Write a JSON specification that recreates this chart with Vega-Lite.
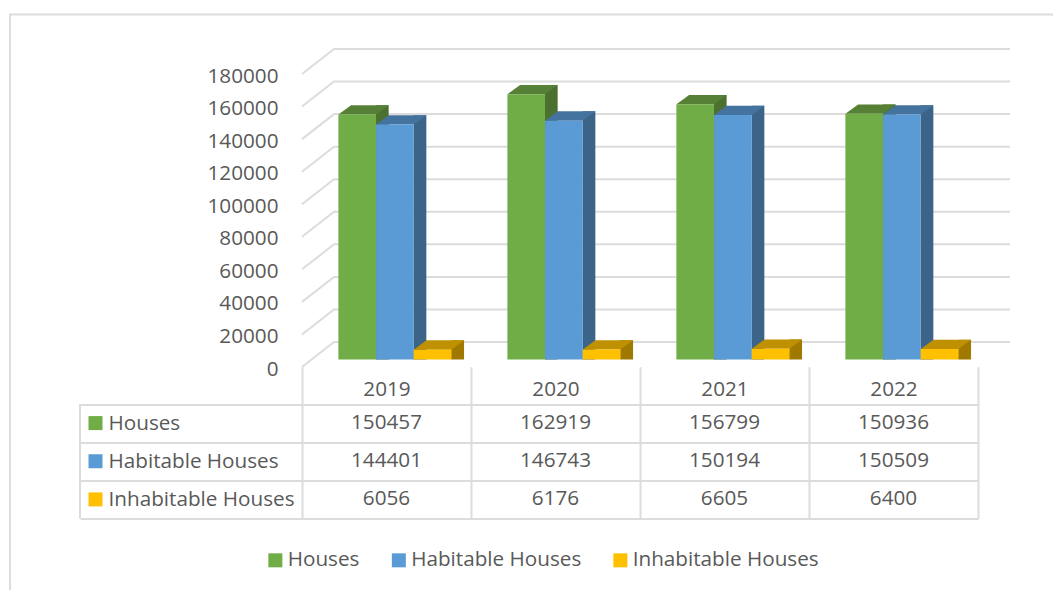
{
"$schema":"https://vega.github.io/schema/vega-lite/v6.json",
"width":676,"height":452,"autosize":"none",
"padding":{"left":302,"top":66.5,"right":75,"bottom":71.5},
"background":"white",
"config":{"view":{"stroke":null},"font":"Open Sans",
 "axisX":{"title":null,"domain":false,"labelAngle":0,"tickBand":"extent","tickExtra":true,"tickSize":-151.8,"tickColor":"#dcdcdc","tickWidth":2,"labelPadding":23,"labelBaseline":"middle","labelFontSize":20.7,"labelFont":"Open Sans","labelColor":"#595959"}},
"datasets":{
"rows":[
{"year":"2019","series":"Houses","value":150457},
{"year":"2020","series":"Houses","value":162919},
{"year":"2021","series":"Houses","value":156799},
{"year":"2022","series":"Houses","value":150936},
{"year":"2019","series":"Habitable Houses","value":144401},
{"year":"2020","series":"Habitable Houses","value":146743},
{"year":"2021","series":"Habitable Houses","value":150194},
{"year":"2022","series":"Habitable Houses","value":150509},
{"year":"2019","series":"Inhabitable Houses","value":6056},
{"year":"2020","series":"Inhabitable Houses","value":6176},
{"year":"2021","series":"Inhabitable Houses","value":6605},
{"year":"2022","series":"Inhabitable Houses","value":6400}],
"ticks":[{"tick":0},{"tick":20000},{"tick":40000},{"tick":60000},{"tick":80000},{"tick":100000},{"tick":120000},{"tick":140000},{"tick":160000},{"tick":180000}]
},
"layer":[
{"layer":[
{"data":{"name":"ticks"},
 "mark":{"type":"point","shape":"M0,7.5L32,-17.5L708,-17.5","size":4,"filled":false,"stroke":"#dcdcdc","strokeWidth":2,"opacity":1},
 "encoding":{
  "x":{"datum":"2019","type":"ordinal","bandPosition":0,"title":null,"scale":{"domain":["2019","2020","2021","2022"],"paddingInner":0,"paddingOuter":0}},
  "y":{"field":"tick","type":"quantitative","scale":{"domain":[0,180000],"range":[293,0],"nice":false},
   "axis":{"title":null,"orient":"left","grid":false,"domain":false,"ticks":false,"values":[0,20000,40000,60000,80000,100000,120000,140000,160000,180000],"format":"d","labelFontSize":20.7,"labelColor":"#595959","labelPadding":24,"labelOffset":9.5,"labelFont":"Open Sans"}}}},
{"data":{"name":"ticks"},"transform":[{"filter":"datum.tick==0"}],
 "mark":{"type":"point","shape":"M-292,231L-292,-345L751,-345M-222,44.5L-222,159","size":4,"filled":false,"stroke":"#dcdcdc","strokeWidth":2,"opacity":1},
 "encoding":{"x":{"datum":"2019","type":"ordinal","bandPosition":0,"title":null},"y":{"field":"tick","type":"quantitative"}}},
{"data":{"name":"rows"},"transform":[{"filter":"datum.series=='Houses'"}],
 "mark":{"type":"bar","width":12.7,"xOffset":-4.2,"yOffset":-9.3,"y2Offset":-9.3,"fill":"#4b7030"},
 "encoding":{"x":{"field":"year","type":"ordinal","title":null},"y":{"field":"value","type":"quantitative","stack":null}}},
{"data":{"name":"rows"},"transform":[{"filter":"datum.series=='Habitable Houses'"}],
 "mark":{"type":"bar","width":12.7,"xOffset":33.5,"yOffset":-9.3,"y2Offset":-9.3,"fill":"#3b6488"},
 "encoding":{"x":{"field":"year","type":"ordinal","title":null},"y":{"field":"value","type":"quantitative","stack":null}}},
{"data":{"name":"rows"},"transform":[{"filter":"datum.series=='Inhabitable Houses'"}],
 "mark":{"type":"bar","width":12.7,"xOffset":71.2,"yOffset":-9.3,"y2Offset":-9.3,"fill":"#a07900"},
 "encoding":{"x":{"field":"year","type":"ordinal","title":null},"y":{"field":"value","type":"quantitative","stack":null}}},
{"data":{"name":"rows"},
 "mark":{"type":"point","shape":"M18.83,0L31.53,-9.3L18.83,-9.3Z","size":4,"filled":true,"opacity":1,"strokeWidth":0},
 "encoding":{"x":{"field":"year","type":"ordinal","title":null},
  "xOffset":{"field":"series","type":"nominal","scale":{"domain":["Houses","Habitable Houses","Inhabitable Houses"],"paddingInner":0,"paddingOuter":0.743,"align":0.65}},
  "y":{"datum":0,"type":"quantitative"},
  "fill":{"condition":[{"test":"datum.series=='Houses'","value":"#4b7030"},{"test":"datum.series=='Habitable Houses'","value":"#3b6488"}],"value":"#a07900"}}},
{"data":{"name":"rows"},
 "mark":{"type":"point","shape":"M-18.83,0L18.83,0L31.53,-9.3L-6.13,-9.3Z","size":4,"filled":true,"opacity":1,"strokeWidth":0},
 "encoding":{"x":{"field":"year","type":"ordinal","title":null},
  "xOffset":{"field":"series","type":"nominal"},
  "y":{"field":"value","type":"quantitative","stack":null},
  "fill":{"condition":[{"test":"datum.series=='Houses'","value":"#568035"},{"test":"datum.series=='Habitable Houses'","value":"#44739f"}],"value":"#bf9000"}}},
{"data":{"name":"rows"},
 "mark":{"type":"bar"},
 "encoding":{"x":{"field":"year","type":"ordinal","title":null},
  "xOffset":{"field":"series","type":"nominal"},
  "y":{"field":"value","type":"quantitative","stack":null},
  "color":{"field":"series","type":"nominal","scale":{"domain":["Houses","Habitable Houses","Inhabitable Houses"],"range":["#70ad47","#5b9bd5","#ffc000"]},
   "legend":{"title":null,"orient":"none","direction":"horizontal","legendX":-37,"legendY":483,"symbolType":"square","symbolSize":196,"symbolStrokeWidth":0,"labelFontSize":20.7,"labelFont":"Open Sans","labelColor":"#595959","labelOffset":2,"labelLimit":400,"columnPadding":28.5}}}}
]},
{"layer":[
{"data":{"name":"rows"},
 "mark":{"type":"text","fontSize":20.7,"font":"Open Sans","color":"#595959","baseline":"middle"},
 "encoding":{
  "x":{"field":"year","type":"ordinal","title":null},
  "y":{"field":"series","type":"nominal","sort":["Houses","Habitable Houses","Inhabitable Houses"],"scale":{"domain":["Houses","Habitable Houses","Inhabitable Houses"],"range":[337.5,452],"paddingInner":0,"paddingOuter":0},
   "axis":{"title":null,"orient":"left","domain":false,"grid":true,"gridColor":"#dcdcdc","gridWidth":2,"tickBand":"extent","tickExtra":true,"tickSize":222,"tickColor":"#dcdcdc","tickWidth":2,"labelAlign":"left","labelPadding":-28,"labelFontSize":20.7,"labelFont":"Open Sans","labelColor":"#595959","labelLimit":400}},
  "text":{"field":"value","type":"quantitative","format":"d"}}},
{"data":{"name":"rows"},"transform":[{"filter":"datum.year=='2019'"}],
 "mark":{"type":"point","shape":"square","size":196,"filled":true,"opacity":1,"xOffset":-291,"strokeWidth":0},
 "encoding":{"x":{"field":"year","type":"ordinal","title":null},
  "y":{"field":"series","type":"nominal","sort":["Houses","Habitable Houses","Inhabitable Houses"]},
  "color":{"field":"series","type":"nominal","legend":null}}}
]}
],
"resolve":{"scale":{"y":"independent"},"axis":{"y":"independent"}}
}
